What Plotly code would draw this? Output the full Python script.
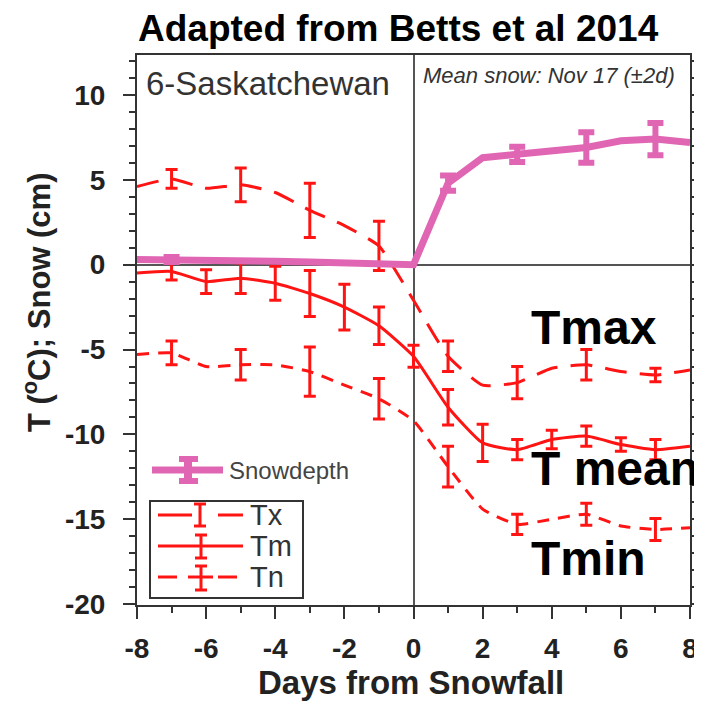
import plotly.graph_objects as go

# ---------------- data ----------------
days = [-8, -7, -6, -5, -4, -3, -2, -1, 0, 1, 2, 3, 4, 5, 6, 7, 8]
tx = [4.6, 5.05, 4.5, 4.7, 4.25, 3.2, 2.3, 1.1, -2.1, -5.4, -7.1, -6.95, -6.1, -5.9, -6.3, -6.5, -6.2]
tm = [-0.5, -0.4, -1.0, -0.8, -1.1, -1.7, -2.5, -3.6, -5.4, -8.4, -10.5, -10.9, -10.3, -10.1, -10.6, -10.9, -10.7]
tn = [-5.3, -5.2, -6.0, -5.9, -5.9, -6.3, -7.1, -7.9, -9.2, -11.9, -14.4, -15.3, -15.0, -14.7, -15.4, -15.6, -15.5]
snow = [0.3, 0.3, 0.25, 0.25, 0.2, 0.15, 0.1, 0.1, 0.0, 4.8, 6.3, 6.5, 6.7, 6.9, 7.3, 7.4, 7.2]

tx_err_days = [-7, -5, -3, -1, 1, 3, 5, 7]
tx_err = [0.55, 1.0, 1.6, 1.45, 0.9, 0.95, 0.9, 0.4]
tm_err_days = [-7, -6, -5, -4, -3, -2, -1, 0, 1, 2, 3, 4, 5, 6, 7]
tm_err = [0.5, 0.7, 0.9, 1.0, 1.35, 1.35, 1.1, 0.65, 1.05, 1.1, 0.6, 0.55, 0.6, 0.4, 0.6]
tn_err_days = [-7, -5, -3, -1, 1, 3, 5, 7]
tn_err = [0.7, 0.9, 1.45, 1.2, 1.2, 0.6, 0.65, 0.65]
snow_err_days = [-7, 1, 3, 5, 7]
snow_err = [0.15, 0.45, 0.45, 0.9, 0.95]

x_ticks = [-8, -6, -4, -2, 0, 2, 4, 6, 8]
x_tick_text = ["-8", "-6", "-4", "-2", "0", "2", "4", "6", "8"]
y_ticks = [-20, -15, -10, -5, 0, 5, 10]
y_tick_text = ["-20", "-15", "-10", "-5", "0", "5", "10"]

# ---------------- style ----------------
RED = "#FF1414"
PINK = "#E066B4"
DARK = "#333333"
FONT = "Liberation Sans, Arial, Helvetica, sans-serif"

OFF = 8                      # default page body margin
PAGE_W, PAGE_H = 702, 709
PL, PR, PT, PB = 137, 690, 55, 605   # plot box in page pixels
W, H = PAGE_W - OFF, PAGE_H - 2 * OFF
ML, MT = PL - OFF, PT - OFF
MR, MB = OFF + W - PR, OFF + H - PB
PW, PH = PR - PL, PB - PT


def px(xp):
    return (xp - PL) / PW


def py(yp):
    return (PB - yp) / PH


def pick(vals, sub):
    lookup = dict(zip(days, vals))
    return [lookup[d] for d in sub]


fig = go.Figure()


def add_series(vals, err_days, errs, color, width, dash, capw, thick, shape):
    line = dict(color=color, width=width, dash=dash, shape=shape)
    if shape == "spline":
        line["smoothing"] = 0.5
    fig.add_trace(go.Scatter(x=days, y=vals, mode="lines", line=line,
                             showlegend=False, hoverinfo="skip"))
    fig.add_trace(go.Scatter(
        x=err_days, y=pick(vals, err_days), mode="markers",
        marker=dict(size=1, color=color),
        error_y=dict(type="data", array=errs, visible=True, color=color,
                     thickness=thick, width=capw),
        showlegend=False, hoverinfo="skip"))


add_series(tn, tn_err_days, tn_err, RED, 3, "12px,9px", 6, 3, "spline")
add_series(tm, tm_err_days, tm_err, RED, 3, "solid", 6, 3, "spline")
add_series(tx, tx_err_days, tx_err, RED, 3, "22px,13px", 6, 3, "spline")
add_series(snow, snow_err_days, snow_err, PINK, 7, "solid", 8, 6, "linear")

shapes = []
# legend: snowdepth (no box)
shapes.append(dict(type="line", xref="paper", yref="paper", x0=px(152), x1=px(223),
                   y0=py(470), y1=py(470), line=dict(color=PINK, width=7)))
shapes.append(dict(type="line", xref="paper", yref="paper", x0=px(188), x1=px(188),
                   y0=py(458), y1=py(482), line=dict(color=PINK, width=8)))
for yy in (459, 481):
    shapes.append(dict(type="line", xref="paper", yref="paper", x0=px(179), x1=px(198),
                       y0=py(yy), y1=py(yy), line=dict(color=PINK, width=6)))
# legend box
shapes.append(dict(type="rect", xref="paper", yref="paper", x0=px(150), x1=px(303),
                   y0=py(598), y1=py(501), line=dict(color=DARK, width=2)))


def leg_I(xc, ytop, ybot):
    shapes.append(dict(type="line", xref="paper", yref="paper", x0=px(xc), x1=px(xc),
                       y0=py(ytop), y1=py(ybot), line=dict(color=RED, width=3)))
    for yy in (ytop, ybot):
        shapes.append(dict(type="line", xref="paper", yref="paper", x0=px(xc - 6), x1=px(xc + 6),
                           y0=py(yy), y1=py(yy), line=dict(color=RED, width=3)))


def leg_seg(x0, x1, yy):
    shapes.append(dict(type="line", xref="paper", yref="paper", x0=px(x0), x1=px(x1),
                       y0=py(yy), y1=py(yy), line=dict(color=RED, width=3)))


leg_seg(158, 192, 515); leg_seg(218, 243, 515); leg_I(200, 504, 526)
leg_seg(158, 243, 546); leg_I(201, 535, 558)
leg_seg(158, 177, 577); leg_seg(188, 213, 577); leg_seg(218, 237, 577); leg_I(201, 566, 590)

ann = []


def text(t, xp, yp, size, color=DARK, weight="normal", style="normal", xanchor="left", angle=0):
    ann.append(dict(text=t, x=px(xp), y=py(yp), xref="paper", yref="paper",
                    xanchor=xanchor, yanchor="middle", showarrow=False, textangle=angle,
                    font=dict(family=FONT, size=size, color=color, weight=weight, style=style)))


text("Snowdepth", 227, 470, 24, "#444444")
text("Tx", 248, 515, 29)
text("Tm", 248, 546, 29)
text("Tn", 248, 577, 29)
text("6-Saskatchewan", 144, 83, 33)
text("Mean snow: Nov 17 (±2d)", 421, 75, 22, style="italic")
text("Tmax", 529, 327, 48, "black", "bold")
text("T mean", 529, 468, 48, "black", "bold")
text("Tmin", 529, 558, 48, "black", "bold")
text("Adapted from Betts et al 2014", 398, 28, 37, "black", "bold", xanchor="center")
text("T (<sup>o</sup>C); Snow (cm)", 37, 302, 31, "#222222", "bold", xanchor="center", angle=-90)
text("Days from Snowfall", 411, 682, 33, "#222222", "bold", xanchor="center")

axis_common = dict(
    showline=True, linecolor=DARK, linewidth=2, ticks="outside", tickwidth=2,
    tickcolor=DARK, ticklen=12, showgrid=False, zeroline=True, zerolinecolor="#555555",
    zerolinewidth=2, automargin=False, ticklabeloverflow="allow",
    tickfont=dict(family=FONT, size=28, color="#222222", weight="bold"),
    minor=dict(ticks="outside", ticklen=6, tickwidth=2, tickcolor=DARK, dtick=1, showgrid=False),
)

fig.update_layout(
    width=W, height=H, autosize=False,
    margin=dict(l=ML, r=MR, t=MT, b=MB, pad=0),
    paper_bgcolor="white", plot_bgcolor="white",
    shapes=shapes, annotations=ann,
    xaxis=dict(range=[-8, 8], tickvals=x_ticks, ticktext=x_tick_text, mirror=True,
               ticklabelstandoff=5, **axis_common),
    yaxis=dict(range=[-20.05, 12.35], tickvals=y_ticks, ticktext=y_tick_text, mirror="ticks",
               ticklabelstandoff=12, **axis_common),
)

fig.write_html("out.html")
